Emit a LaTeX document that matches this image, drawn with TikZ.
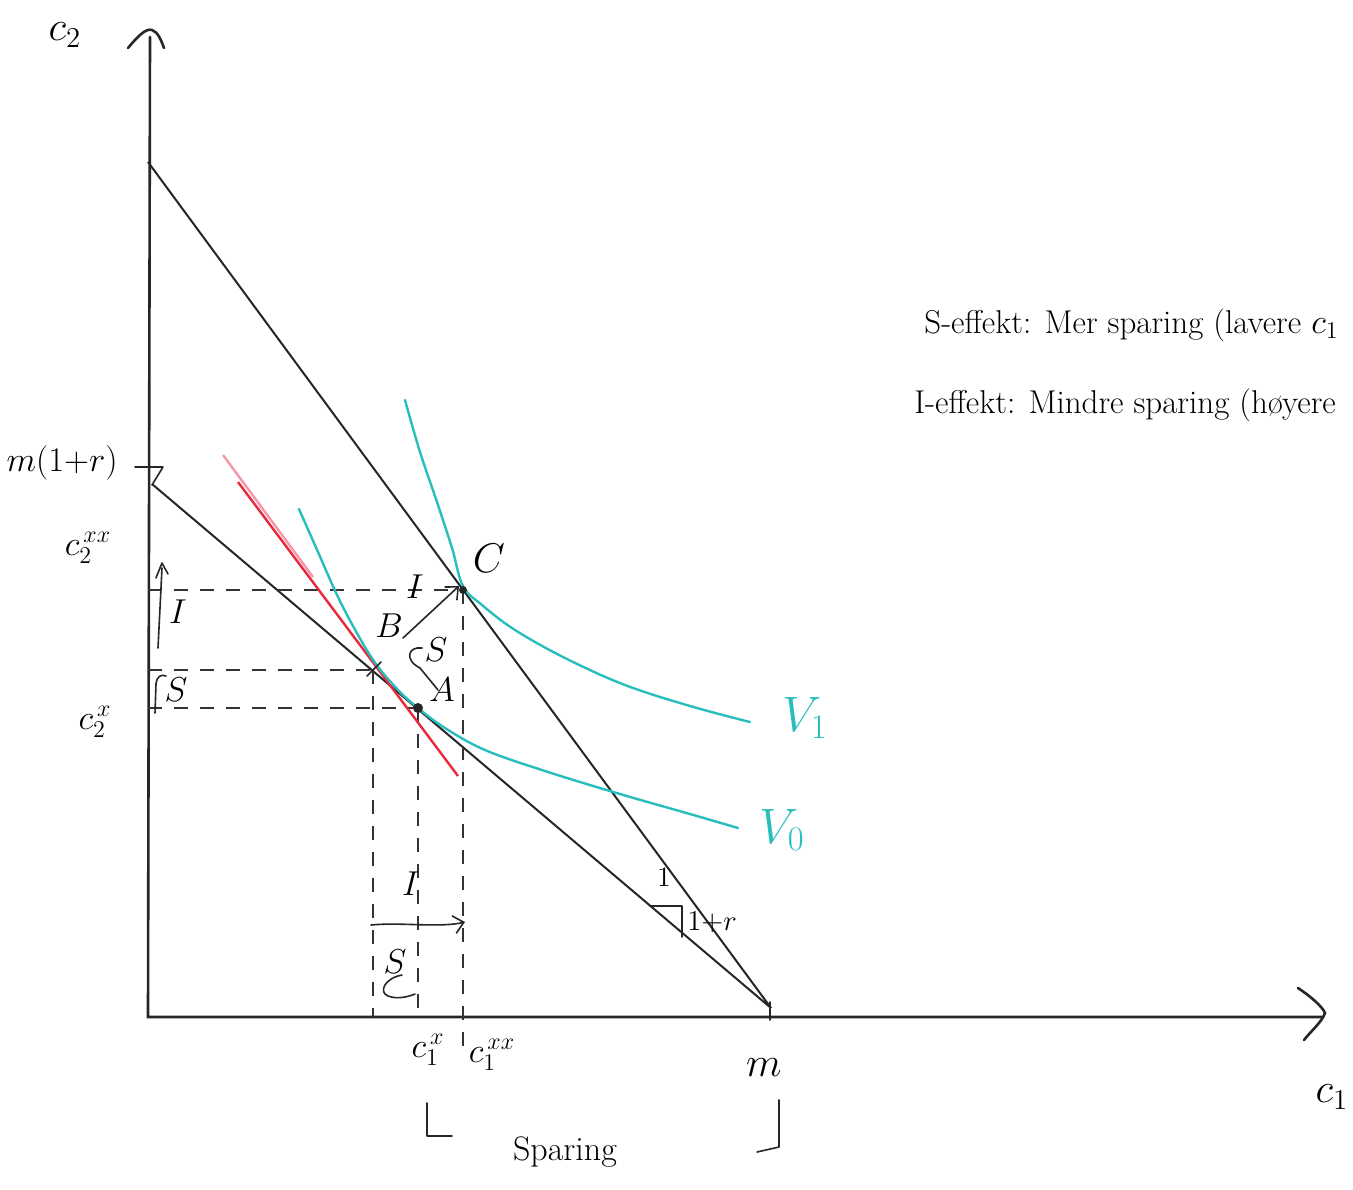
\documentclass[tikz,border=0pt]{standalone}
\usetikzlibrary{arrows.meta,calc}
\definecolor{tealpen}{RGB}{40,190,190}
\definecolor{redpen}{RGB}{232,40,60}
\definecolor{pinkpen}{RGB}{245,150,170}
\begin{document}
\begin{tikzpicture}[x=0.5pt,y=-0.5pt]
\tikzset{
 axisline/.style={line width=1.3pt, black!85, line cap=round},
 budget/.style={line width=1pt, black!85},
 guide/.style={line width=0.6pt, dash pattern=on 7pt off 6pt, black!80},
 indiff/.style={line width=1.2pt, tealpen, line cap=round},
 pen/.style={line width=0.8pt, black!85, line cap=round, line join=round},
 penarrow/.style={pen, -{Straight Barb[length=5pt,width=9pt]}},
 lbl/.style={inner sep=0pt, font=\fontsize{17}{20}\selectfont},
 smlbl/.style={inner sep=0pt, font=\fontsize{14}{17}\selectfont},
 biglbl/.style={inner sep=0pt, font=\fontsize{21}{25}\selectfont},
 ulbl/.style={inner sep=0pt, text=tealpen, font=\fontsize{26}{30}\selectfont},
 note/.style={inner sep=0pt, anchor=west, font=\fontsize{16.5}{20}\selectfont},
}
\useasboundingbox (0,0) rectangle (1353,1189);
\clip (0,0) rectangle (1353,1189);
\fill[white] (0,0) rectangle (1353,1189);

% axes
\coordinate (O) at (148,1017);
\coordinate (Ytop) at (150,37);
\coordinate (Xend) at (1322,1017);
\draw[axisline] (Ytop) -- (O) -- (Xend);
\draw[axisline] (128,48) .. controls (138,36) and (146,28) .. (152,30) .. controls (158,32) and (161,40) .. (164,48);
\draw[axisline] (1298,988) .. controls (1310,996) and (1322,1006) .. (1325,1013) .. controls (1322,1022) and (1310,1032) .. (1304,1040);

% budget lines
\coordinate (Y1) at (148,162);
\coordinate (Y0) at (152,484);
\coordinate (M) at (771,1008);
\draw[budget] (Y1) -- (M);
\draw[budget] (Y0) -- (M);

% points
\coordinate (C) at (463,590);
\coordinate (B) at (373,670);
\coordinate (A) at (418,708);

% ticks
\draw[pen] (135,467) -- (163,467) -- (152,485);
\draw[pen] (770,1002) -- (770,1020);

% dashed guides
\draw[guide] (O |- C) -- (C);
\draw[guide] (O |- B) -- (B);
\draw[guide] (O |- A) -- (A);
\draw[guide] (B) -- (B |- O);
\draw[guide] (A) -- (A |- O);
\draw[guide] (C) -- ($(C |- O)+(0,30)$);

% compensated (red) lines
\draw[line width=1.2pt, pinkpen] (223,455) -- (313,577);
\draw[line width=1.2pt, redpen] (238,482) -- (458,776);

% indifference curves
\draw[indiff] plot[smooth, tension=0.6] coordinates {(299,509) (318,552) (338,597) (358,635) (376,664) (398,690) (418,708) (445,728) (485,750) (545,771) (620,794) (690,814) (738,828)};
\draw[indiff] plot[smooth, tension=0.6] coordinates {(405,400) (420,452) (437,502) (452,548) (463,586) (482,605) (515,630) (565,658) (625,685) (690,706) (750,722)};

% point marks
\fill[black!85] (A) circle (2.5pt);
\fill[black!85] (C) circle (2pt);
\draw[pen] ($(B)+(-6,6)$) -- ($(B)+(8,-8)$);

% effect arrows in the plot
\draw[penarrow] ($(B)+(30,-32)$) -- ($(C)+(-4,-4)$);
\draw[pen] ($(A)+(20,-18)$) -- ($(A)+(2,-40)$) .. controls ($(A)+(-14,-48)$) and ($(A)+(-10,-62)$) .. ($(A)+(4,-60)$);

% effect arrows on the c2 axis
\draw[pen] (158,648) -- (162,568);
\draw[pen] (156,578) -- (162,563) -- (168,574);
\draw[pen] (155,713) -- (156,684) .. controls (157,676) and (161,674) .. (166,676);

% effect arrows above the c1 axis
\draw[penarrow] (371,925) .. controls (400,922) and (440,928) .. (465,922);
\draw[pen] (402,975) .. controls (385,978) and (378,992) .. (388,996) .. controls (398,1000) and (410,996) .. (415,994);

% slope triangle
\draw[pen] (650,906) -- (682,906) -- (682,937);

% brackets
\draw[pen] (427,1103) -- (427,1136) -- (452,1136);
\draw[pen] (779,1100) -- (779,1147) -- (757,1152);

% labels
\node[biglbl] (lc2) at (65,35) {$c_2$};
\node[lbl] (lm1r) at (62,463) {$m(1{+}r)$};
\node[lbl] (lc2xx) at (88,548) {$c_2^{\,xx}$};
\node[lbl] (lc2x) at (95,722) {$c_2^{\,x}$};
\node[lbl] (lc1x) at (428,1050) {$c_1^{\,x}$};
\node[lbl] (lc1xx) at (492,1055) {$c_1^{\,xx}$};
\node[biglbl] (lm) at (764,1068) {$m$};
\node[biglbl] (lc1) at (1332,1097) {$c_1$};
\node[ulbl] (lV1) at (805,718) {$V_1$};
\node[ulbl] (lV0) at (782,830) {$V_0$};
\node[lbl] (lA) at (442,690) {$A$};
\node[lbl] (lB) at (389,626) {$B$};
\node[biglbl] (lC) at (489,558) {$C$};
\node[lbl] (lIbc) at (415,587) {$I$};
\node[lbl] (lSab) at (436,650) {$S$};
\node[lbl] (lIy) at (178,612) {$I$};
\node[lbl] (lSy) at (176,690) {$S$};
\node[lbl] (lIx) at (411,884) {$I$};
\node[lbl] (lSx) at (395,962) {$S$};
\node[smlbl] (l1) at (664,877) {1};
\node[smlbl] (l1r) at (712,922) {$1{+}r$};
\node[lbl] (lspar) at (565,1152) {Sparing};
\node[note] (n1) at (924,325) {S-effekt: Mer sparing (lavere $c_1$};
\node[note] (n2) at (914,405) {I-effekt: Mindre sparing (høyere};
\end{tikzpicture}
\end{document}
